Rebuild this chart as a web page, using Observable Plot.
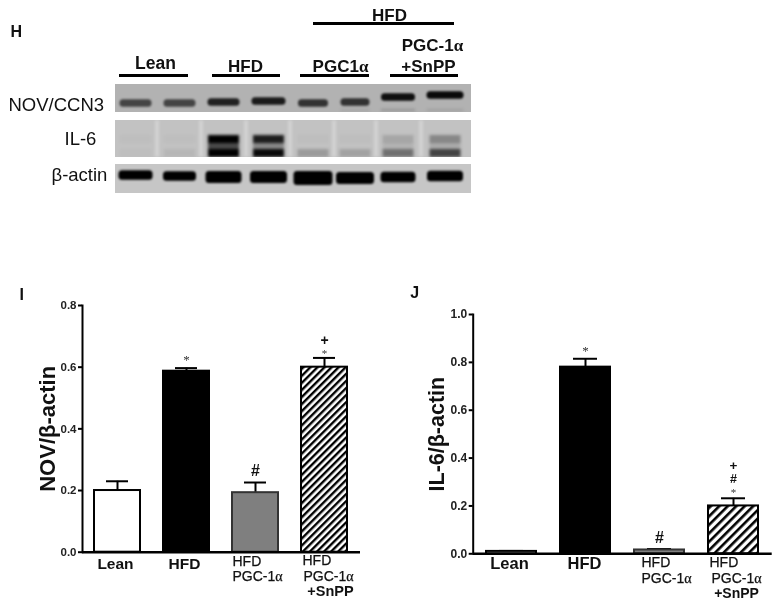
<!DOCTYPE html>
<html>
<head>
<meta charset="utf-8">
<script src="https://cdn.jsdelivr.net/npm/d3@7"></script>
<script src="https://cdn.jsdelivr.net/npm/@observablehq/plot@0.6"></script>
<style>
html,body{margin:0;padding:0;background:#fff}
#fig{position:relative;width:784px;height:613px;overflow:hidden;filter:blur(0.35px)}
#fig>svg{position:absolute;background:transparent;overflow:visible}
</style>
</head>
<body>
<div id="fig"></div>
<script>
// ---------- chart values ----------
const categories = ["Lean", "HFD", "HFD PGC-1α", "HFD PGC-1α +SnPP"];
const novValues = [0.2, 0.587, 0.193, 0.6];
const novErrorTops = [0.23, 0.597, 0.226, 0.63];
const il6Values = [0.01, 0.78, 0.016, 0.2];
const il6ErrorTops = [0.012, 0.815, 0.02, 0.232];
const barFills = ["white", "black", "#7f7f7f", "HATCH"];
const novMarks = [[], ["*"], ["#"], ["*", "+"]];
const il6Marks = [[], ["*"], ["#"], ["*", "#", "+"]];

// ---------- blot values (relative band darkness per lane) ----------
const novBand = [0.62, 0.62, 0.82, 0.85, 0.72, 0.72, 0.92, 0.95];
const novFaint = [0, 0, 0, 0, 0, 0.08, 0.18, 0.1];
const il6Upper = [0.015, 0.015, 1, 0.85, 0.02, 0.02, 0.14, 0.3];
const il6Middle = [0, 0, 0.62, 0.3, 0, 0, 0.08, 0.12];
const il6Lower = [0.02, 0.06, 1, 0.95, 0.2, 0.16, 0.42, 0.65];
const actinBand = [1, 1, 1, 1, 1, 1, 1, 1];

// ---------- blot layout ----------
const laneCentres = [135.5, 179.5, 223.5, 268.5, 313, 355, 398, 445];
const novCentres = [103, 103, 102, 101, 103, 102, 97, 95];
const novWidths = [32, 32, 32, 34, 30, 29, 34, 37];
const actinCentres = [175, 176, 177, 177, 178, 178, 177, 176];
const actinWidths = [34, 33, 36, 37, 39, 38, 35, 36];
const actinHeights = [9.5, 9.5, 12, 12, 14, 12, 10.5, 10.5];
const rows = [
  {top: 84, bottom: 112, shade: "#b2b2b2"},
  {top: 120, bottom: 157, shade: "#c2c2c2"},
  {top: 164, bottom: 193, shade: "#c6c6c6"}
];
const gaps = [
  {top: 112, bottom: 120},
  {top: 157, bottom: 164}
];
const streaks = [157, 201, 246, 290, 334, 376, 421];

const blotLabels = [
  {t: "H", x: 10, y: 31, s: 16, w: 700, a: "start"},
  {t: "HFD", x: 389, y: 15, s: 17, w: 700, a: "middle"},
  {t: "PGC-1α", x: 432, y: 45, s: 17, w: 700, a: "middle"},
  {t: "Lean", x: 155, y: 63, s: 17.5, w: 700, a: "middle"},
  {t: "HFD", x: 245, y: 66, s: 17, w: 700, a: "middle"},
  {t: "PGC1α", x: 340, y: 66, s: 17, w: 700, a: "middle"},
  {t: "+SnPP", x: 428, y: 66, s: 17, w: 700, a: "middle"},
  {t: "NOV/CCN3", x: 8, y: 105, s: 18.5, w: 400, a: "start"},
  {t: "IL-6", x: 64, y: 139, s: 18.5, w: 400, a: "start"},
  {t: "β-actin", x: 51, y: 175, s: 18.5, w: 400, a: "start"}
];
const blotRules = [
  {x1: 313, x2: 454, y: 23},
  {x1: 119, x2: 188, y: 75},
  {x1: 212, x2: 280, y: 75},
  {x1: 300, x2: 369, y: 75},
  {x1: 390, x2: 458, y: 75}
];

const font = "'Liberation Sans', Arial, sans-serif";
const fig = document.getElementById("fig");

// ---------- blot panel ----------
const bands = (vals, centres, widths, heights) => vals.map((v, i) => ({
  i: v,
  x1: laneCentres[i] - widths[i] / 2,
  x2: laneCentres[i] + widths[i] / 2,
  y1: centres[i] - heights[i] / 2,
  y2: centres[i] + heights[i] / 2
}));
const fill8 = v => laneCentres.map(() => v);
const sharpBands = [
  ...bands(novBand, novCentres, novWidths, fill8(7.5)),
  ...bands(actinBand, actinCentres, actinWidths, actinHeights)
];
const softBands = [
  ...bands(novFaint, fill8(110), novWidths, fill8(2)),
  ...bands(il6Upper, fill8(139), fill8(31), fill8(8)),
  ...bands(il6Middle, fill8(146), fill8(31), fill8(7)),
  ...bands(il6Lower, fill8(153), fill8(31), fill8(8))
];
const streakRects = streaks.map(x => ({x1: x - 2, x2: x + 2, y1: 120, y2: 157}));
// the gel panel is drawn in picture coordinates
const blot = Plot.plot({
  width: 784, height: 280, margin: 0,
  x: {type: "identity", axis: null},
  y: {type: "identity", axis: null},
  opacity: {domain: [0, 1], range: [0, 1]},
  marks: [
    Plot.rect(rows, {x1: () => 115, x2: () => 471, y1: "top", y2: "bottom", fill: "shade"}),
    Plot.rect(streakRects, {x1: "x1", x2: "x2", y1: "y1", y2: "y2", fill: "white", fillOpacity: 0.28, imageFilter: "blur(1.5px)"}),
    Plot.rect(softBands, {x1: "x1", x2: "x2", y1: "y1", y2: "y2", fill: "black", fillOpacity: "i", imageFilter: "blur(1.8px)"}),
    Plot.rect(sharpBands, {x1: "x1", x2: "x2", y1: "y1", y2: "y2", fill: "black", fillOpacity: "i", r: 3.5, imageFilter: "blur(1.2px)"}),
    Plot.rect(gaps, {x1: () => 115, x2: () => 471, y1: "top", y2: "bottom", fill: "white"}),
    Plot.ruleY(blotRules, {x1: "x1", x2: "x2", y: "y", stroke: "black", strokeWidth: 3}),
    ...blotLabels.map(l => Plot.text([l], {x: "x", y: "y", text: "t", fontSize: l.s, fontWeight: l.w, textAnchor: l.a, fill: "#111", fontFamily: font}))
  ]
});
blot.style.left = "0px"; blot.style.top = "0px";
fig.append(blot);

// ---------- bar charts ----------
function hatchDefs(id, period, stroke) {
  return () => {
    const defs = d3.create("svg:defs");
    defs.append("pattern")
      .attr("id", id).attr("patternUnits", "userSpaceOnUse")
      .attr("width", period).attr("height", period)
      .attr("patternTransform", "rotate(45)")
      .call(p => {
        p.append("rect").attr("width", period).attr("height", period).attr("fill", "white");
        p.append("rect").attr("width", stroke).attr("height", period).attr("fill", "black");
      });
    return defs.node();
  };
}

function barChart(cfg) {
  const hatchId = "hatch" + cfg.id;
  const data = categories.map((c, i) => ({
    c, v: cfg.values[i], top: cfg.tops[i],
    fill: barFills[i] === "HATCH" ? `url(#${hatchId})` : barFills[i],
    line: barFills[i] === "#7f7f7f" ? "#333" : "black"
  }));
  const annotations = categories.flatMap((c, i) =>
    cfg.sig[i].map((t, k) => ({c, t, top: cfg.tops[i], dy: cfg.sigDy[i][k], s: cfg.sigSize[i][k], g: t === "*" ? "#333" : "#111"}))
  );
  const p = Plot.plot({
    width: 392, height: 333,
    marginLeft: cfg.ml, marginRight: cfg.mr, marginTop: cfg.mt, marginBottom: cfg.mb,
    x: {domain: categories, type: "band", paddingInner: cfg.pad, paddingOuter: cfg.pad / 2, axis: null},
    y: {domain: cfg.domain, axis: null},
    color: {type: "identity"},
    marks: [
      hatchDefs(hatchId, cfg.period, cfg.stripe),
      Plot.ruleX(data, {x: "c", y1: "v", y2: "top", stroke: "black", strokeWidth: 2}),
      Plot.tickY(data, {x: "c", y: "top", stroke: "black", strokeWidth: 2, insetLeft: cfg.capInset, insetRight: cfg.capInset}),
      Plot.barY(data, {x: "c", y: "v", fill: "fill", stroke: "line", strokeWidth: 2}),
      Plot.frame({anchor: "left", stroke: "black", strokeWidth: 2}),
      Plot.ruleY([0], {stroke: "black", strokeWidth: 2.4}),
      Plot.axisY({ticks: cfg.ticks, tickFormat: ".1f", tickSize: 4, tickPadding: 2, label: null, fontSize: cfg.tickFont, fontWeight: 700, fontFamily: font, stroke: "black", strokeWidth: 2, fill: "#222"}),
      Plot.text([cfg.title], {frameAnchor: "left", y: () => cfg.titleY, dx: cfg.titleDx, rotate: -90, textAnchor: "middle", fontSize: cfg.titleSize, fontWeight: 700, fontFamily: font, fill: "#111"}),
      Plot.text([cfg.letter], {frameAnchor: "top-left", dx: cfg.letterDx, dy: cfg.letterDy, fontSize: 16, fontWeight: 700, fontFamily: font, fill: "#111"}),
      ...annotations.map(a => Plot.text([a], {x: "c", y: "top", text: "t", dy: a.dy, fontSize: a.s, fontWeight: a.t === "*" ? 400 : 700, fontFamily: a.t === "*" ? "'Liberation Serif', serif" : font, fill: a.g})),
      ...cfg.labels.map(l => Plot.text([l], {x: "c", text: "t", frameAnchor: "bottom", dx: l.dx, dy: l.dy, fontSize: l.s, fontWeight: l.w, textAnchor: l.a, fontFamily: font, fill: "#111", stroke: l.w === 400 ? "#111" : "none", strokeWidth: 0.25}))
    ]
  });
  p.style.left = cfg.left + "px"; p.style.top = "280px";
  return p;
}

const [lean, hfd, pgc, snpp] = categories;

fig.append(barChart({
  id: "I", left: 0, ml: 82, mr: 32, mt: 25, mb: 61.3, pad: 0.33, domain: [0, 0.8], ticks: [0, 0.2, 0.4, 0.6, 0.8],
  values: novValues, tops: novErrorTops, sig: novMarks, sigDy: [[], [-8], [-12], [-4.5, -17.5]], sigSize: [[], [13], [16], [11, 14]],
  capInset: 12, period: 5, stripe: 2.4, tickFont: 11.5, title: "NOV/β-actin", titleY: 0.4, titleDx: -35, titleSize: 22,
  letter: "I", letterDx: -63, letterDy: -17,
  labels: [
    {c: lean, t: "Lean", dx: -2, dy: 16.5, s: 15.5, w: 700, a: "middle"},
    {c: hfd, t: "HFD", dx: -2, dy: 16.5, s: 15.5, w: 700, a: "middle"},
    {c: pgc, t: "HFD", dx: -23, dy: 13.5, s: 14, w: 400, a: "start"},
    {c: pgc, t: "PGC-1α", dx: -23, dy: 28.5, s: 14, w: 400, a: "start"},
    {c: snpp, t: "HFD", dx: -22, dy: 13, s: 14, w: 400, a: "start"},
    {c: snpp, t: "PGC-1α", dx: -21, dy: 28.5, s: 14, w: 400, a: "start"},
    {c: snpp, t: "+SnPP", dx: 6, dy: 44, s: 14.5, w: 700, a: "middle"}
  ]
}));

fig.append(barChart({
  id: "J", left: 392, ml: 80.7, mr: 12.3, mt: 34, mb: 59.7, pad: 0.325, domain: [0, 1], ticks: [0, 0.2, 0.4, 0.6, 0.8, 1],
  values: il6Values, tops: il6ErrorTops, sig: il6Marks, sigDy: [[], [-8], [-11], [-5.5, -19, -33]], sigSize: [[], [13], [16], [11, 12.5, 13.5]],
  capInset: 13, period: 6, stripe: 2.6, tickFont: 12, title: "IL-6/β-actin", titleY: 0.5, titleDx: -36, titleSize: 21.5,
  letter: "J", letterDx: -63, letterDy: -28,
  labels: [
    {c: lean, t: "Lean", dx: -2, dy: 15.5, s: 16.5, w: 700, a: "middle"},
    {c: hfd, t: "HFD", dx: -1, dy: 15.5, s: 16.5, w: 700, a: "middle"},
    {c: pgc, t: "HFD", dx: -18, dy: 13.5, s: 14, w: 400, a: "start"},
    {c: pgc, t: "PGC-1α", dx: -18, dy: 29, s: 14, w: 400, a: "start"},
    {c: snpp, t: "HFD", dx: -24, dy: 13.5, s: 14, w: 400, a: "start"},
    {c: snpp, t: "PGC-1α", dx: -22, dy: 29, s: 14, w: 400, a: "start"},
    {c: snpp, t: "+SnPP", dx: 3, dy: 44.5, s: 14, w: 700, a: "middle"}
  ]
}));

// the alpha in the reference is set in a serif symbol face
document.querySelectorAll("#fig text").forEach(t => {
  const s = t.textContent;
  if (s.includes("α") && t.children.length === 0) {
    t.textContent = s.replace("α", "");
    const a = document.createElementNS("http://www.w3.org/2000/svg", "tspan");
    a.setAttribute("font-family", "'Liberation Serif', serif");
    a.textContent = "α";
    t.append(a);
  }
});
</script>
</body>
</html>
